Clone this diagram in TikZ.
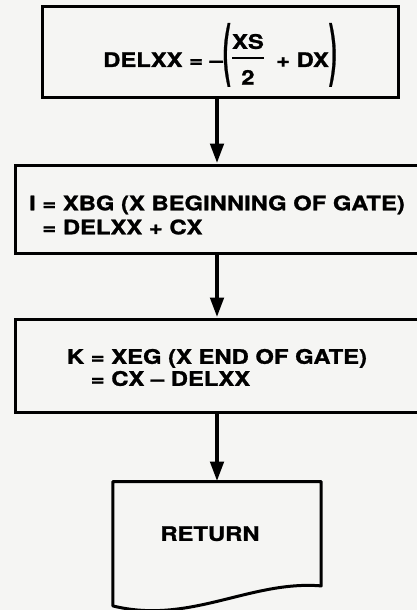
\documentclass[tikz,border=0pt]{standalone}
\usepackage{amsmath}
\usepackage{graphicx}
\usepackage{fontspec}
\setmainfont{TeX Gyre Heros}[FakeStretch=1.19, BoldFeatures={FakeBold=1.2}]
\usepackage{tikz}
\usetikzlibrary{positioning, arrows.meta, calc}
\definecolor{paper}{RGB}{245,245,243}
% lower the text inside a box without changing its size
\newcommand{\dropby}[2]{\raisebox{-#1}[\height][\depth]{#2}}
\newcommand{\bigparen}[1]{\raisebox{-6pt}{\scalebox{1}[3.4]{#1}}}

\begin{document}
\begin{tikzpicture}[x=1pt, y=1pt, node distance=65pt,
  every node/.style={font=\bfseries\fontsize{20}{20}\selectfont},
  proc box/.style={rectangle,draw,line width=3pt,fill=paper,inner sep=0pt},
  flow/.style={line width=4.5pt, -{Triangle[length=20pt,width=13pt]}}]

\clip (0,0) rectangle (417,-610);
\fill[paper] (0,0) rectangle (417,-610);

\node[proc box, minimum width=356pt, minimum height=90pt] (delxx) at (220,-52)
  {\dropby{3pt}{DELXX = –\bigparen{(}\raisebox{4pt}{$\genfrac{}{}{2.5pt}{0}{\text{XS}}{\text{\rule{0pt}{18pt}2}}$}\;\;+ DX\bigparen{)}}};
\node[proc box, minimum width=404pt, minimum height=88pt, align=left] (xbg)
  [below=65pt of delxx, xshift=-3pt]
  {\dropby{6pt}{I = XBG (X BEGINNING OF GATE)}\\[4pt] \dropby{6pt}{\phantom{I} = DELXX + CX}};
\node[proc box, minimum width=404pt, minimum height=93pt, align=left] (xeg)
  [below=63pt of xbg]
  {\dropby{2pt}{K = XEG (X END OF GATE)}\\[2pt] \dropby{2pt}{\phantom{K} = CX – DELXX}};
\node (ret) [below=68pt of xeg, minimum width=208pt, minimum height=104pt, inner sep=0pt] {};

% document shape for the return
\filldraw[fill=paper, line width=3pt, line join=round]
  (ret.north west) -- (ret.north east) -- (ret.south east)
  .. controls (250,-580) and (190,-625) .. ($(ret.south west)+(0,-20)$) -- cycle;
\node (rettext) at (ret) [xshift=-7pt] {RETURN};

\draw[flow] (xbg.north |- delxx.south) -- (xbg.north);
\draw[flow] (xbg) -- (xeg);
\draw[flow] (xeg) -- (ret);

\end{tikzpicture}
\end{document}
